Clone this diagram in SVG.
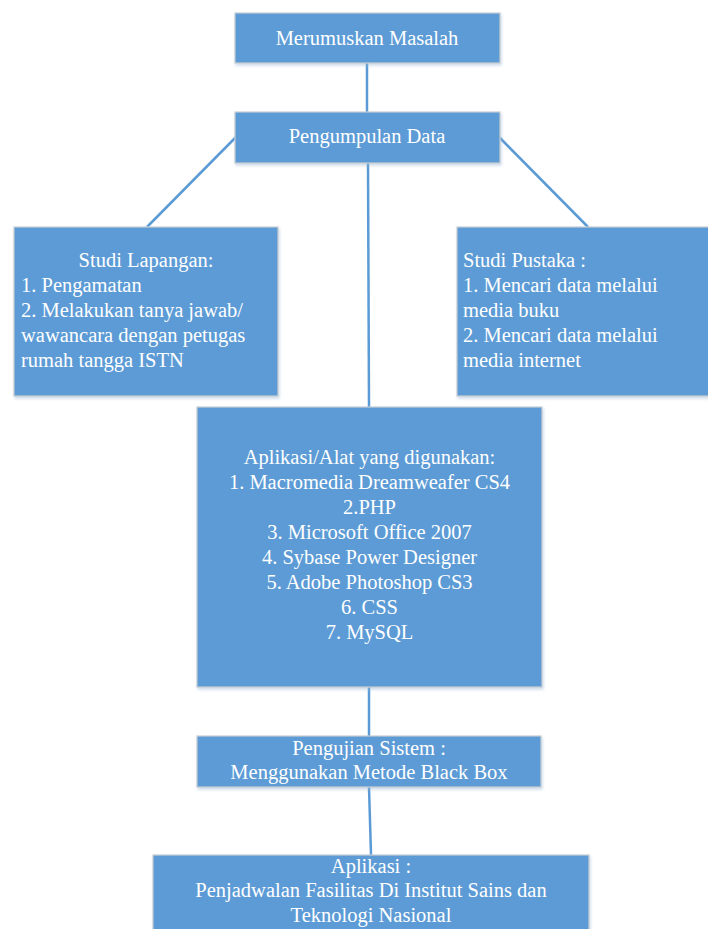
<svg xmlns="http://www.w3.org/2000/svg" width="708" height="929" viewBox="0 0 708 929">
<defs>
<filter id="sh" x="-5%" y="-5%" width="115%" height="120%">
<feDropShadow dx="1" dy="2" stdDeviation="1.5" flood-color="#9ab6d4" flood-opacity="0.5"/>
</filter>
</defs>
<style>
.box{fill:#5b9bd5;stroke:#c9cdd2;stroke-width:1.2;filter:url(#sh)}
.t{font-family:"Liberation Serif","Times New Roman",serif;font-size:20.5px;fill:#ffffff}
.c{text-anchor:middle}
.ln{stroke:#5b9bd5;stroke-width:2.5;fill:none}
</style>
<rect width="708" height="929" fill="#ffffff"/>
<g id="connectors">
<line class="ln" x1="367" y1="63" x2="367" y2="112"/>
<line class="ln" x1="236" y1="137" x2="147" y2="227"/>
<line class="ln" x1="499" y1="137" x2="588" y2="227"/>
<line class="ln" x1="368" y1="163" x2="369" y2="407"/>
<line class="ln" x1="369" y1="687" x2="369" y2="736"/>
<line class="ln" x1="369" y1="787" x2="371" y2="855"/>
</g>
<g id="merumuskan">
<rect class="box" x="235" y="13" width="265" height="50"/>
<text class="t c" x="367" y="45">Merumuskan Masalah</text>
</g>
<g id="pengumpulan">
<rect class="box" x="235" y="112" width="265" height="51"/>
<text class="t c" x="367" y="143">Pengumpulan Data</text>
</g>
<g id="studi-lapangan">
<rect class="box" x="14" y="227" width="264" height="169"/>
<text class="t c" x="146" y="267">Studi Lapangan:</text>
<text class="t" x="21" y="292">1. Pengamatan</text>
<text class="t" x="21" y="317">2. Melakukan tanya jawab/</text>
<text class="t" x="21" y="342">wawancara dengan petugas</text>
<text class="t" x="21" y="367">rumah tangga ISTN</text>
</g>
<g id="studi-pustaka">
<rect class="box" x="457" y="227" width="260" height="169"/>
<text class="t" x="463" y="267">Studi Pustaka :</text>
<text class="t" x="463" y="292">1. Mencari data melalui</text>
<text class="t" x="463" y="317">media buku</text>
<text class="t" x="463" y="342">2. Mencari data melalui</text>
<text class="t" x="463" y="367">media internet</text>
</g>
<g id="aplikasi-alat">
<rect class="box" x="197" y="407" width="345" height="280"/>
<text class="t c" x="369.5" y="464">Aplikasi/Alat yang digunakan:</text>
<text class="t c" x="369.5" y="489">1. Macromedia Dreamweafer CS4</text>
<text class="t c" x="369.5" y="514">2.PHP</text>
<text class="t c" x="369.5" y="539">3. Microsoft Office 2007</text>
<text class="t c" x="369.5" y="564">4. Sybase Power Designer</text>
<text class="t c" x="369.5" y="589">5. Adobe Photoshop CS3</text>
<text class="t c" x="369.5" y="614">6. CSS</text>
<text class="t c" x="369.5" y="639">7. MySQL</text>
</g>
<g id="pengujian">
<rect class="box" x="197" y="736" width="344" height="51"/>
<text class="t c" x="369" y="755">Pengujian Sistem :</text>
<text class="t c" x="369" y="779">Menggunakan Metode Black Box</text>
</g>
<g id="aplikasi">
<rect class="box" x="153" y="855" width="436" height="90"/>
<text class="t c" x="371" y="873">Aplikasi :</text>
<text class="t c" x="371" y="897">Penjadwalan Fasilitas Di Institut Sains dan</text>
<text class="t c" x="371" y="922">Teknologi Nasional</text>
</g>
</svg>
